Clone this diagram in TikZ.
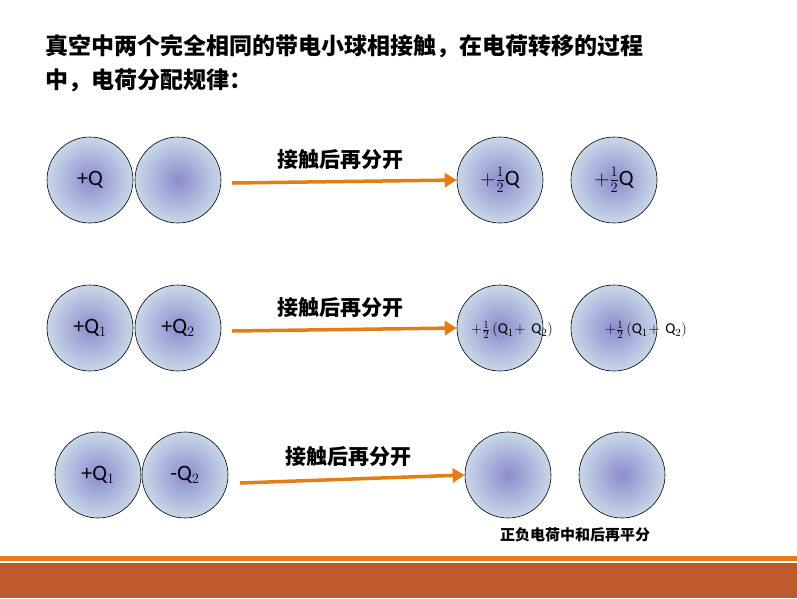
\documentclass[tikz,border=0pt]{standalone}
\usepackage{fontspec}
\usetikzlibrary{arrows.meta}
\setmainfont{Carlito}
\newfontfamily\cjk{Noto Sans CJK SC}
\definecolor{ballin}{RGB}{140,140,205}
\definecolor{ballout}{RGB}{200,215,232}
\definecolor{arrorange}{RGB}{228,125,20}
\definecolor{bardark}{RGB}{190,90,45}
\begin{document}
\begin{tikzpicture}[x=1pt,y=-1pt,
 ball/.style={circle,draw=black,line width=0.6pt,minimum size=86pt,inner sep=0pt,shading=radial,inner color=ballin,outer color=ballout,font=\fontsize{22}{24}\selectfont},
 arr/.style={draw=arrorange,line width=3.5pt,-{Triangle[length=12pt,width=14pt]}},
 lab/.style={font=\cjk\bfseries\fontsize{21}{24}\selectfont},
 frac/.style={font=\fontsize{15}{17}\selectfont}]
\useasboundingbox (0,0) rectangle (797,598);
\fill[white] (0,0) rectangle (797,598);
\node[anchor=west,font=\cjk\bfseries\fontsize{23}{26}\selectfont] (t1) at (42,46) {真空中两个完全相同的带电小球相接触，在电荷转移的过程};
\node[anchor=west,font=\cjk\bfseries\fontsize{23}{26}\selectfont] (t2) at (42,80) {中，电荷分配规律：};
% row 1
\node[ball] (a1) at (90,180) {+Q};
\node[ball] (b1) at (178,180) {};
\node[ball] (c1) at (500,180) {$+\frac{1}{2}$Q};
\node[ball] (d1) at (614,180) {$+\frac{1}{2}$Q};
\draw[arr] (232,183) -- (c1.west);
\node[lab] (l1) at (340,160) {接触后再分开};
% row 2
\node[ball] (a2) at (90,328) {+Q$_1$};
\node[ball] (b2) at (178,328) {+Q$_2$};
\node[ball] (c2) at (500,328) {};
\node[ball] (d2) at (614,328) {};
\node[frac] (fc) at (512,330) {$+\frac{1}{2}\,(\mathrm{Q}_1\!+\,\mathrm{Q}_2)$};
\node[frac] (fd) at (646,330) {$+\frac{1}{2}\,(\mathrm{Q}_1\!+\,\mathrm{Q}_2)$};
\draw[arr] (232,331) -- (c2.west);
\node[lab] (l2) at (340,308) {接触后再分开};
% row 3
\node[ball] (a3) at (98,475) {+Q$_1$};
\node[ball] (b3) at (185,475) {-Q$_2$};
\node[ball] (c3) at (508,475) {};
\node[ball] (d3) at (622,475) {};
\draw[arr] (240,483) -- (c3.west);
\node[lab] (l3) at (348,457) {接触后再分开};
\node[font=\cjk\bfseries\fontsize{15}{17}\selectfont] (n3) at (575,535) {正负电荷中和后再平分};
% bottom bar
\fill[arrorange] (0,556) rectangle (797,561);
\fill[bardark] (0,563) rectangle (797,598);
\end{tikzpicture}
\end{document}
